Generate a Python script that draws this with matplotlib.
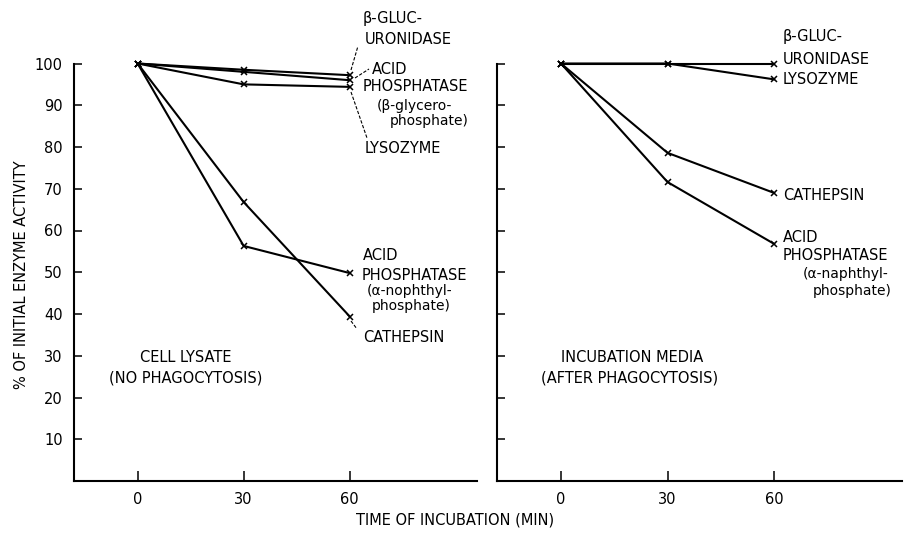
import matplotlib
matplotlib.use("Agg")
import matplotlib.pyplot as plt
from matplotlib.lines import Line2D

plt.rcParams['font.family'] = ['DejaVu Sans']

# ---- data ----
time_min = [0, 30, 60]
x_ticks = [0, 30, 60]
y_ticks = [10, 20, 30, 40, 50, 60, 70, 80, 90, 100]

# Cell lysate (no phagocytosis)
beta_gluc_lysate = [100, 98.5, 97.2]
acid_phos_beta_lysate = [100, 98.0, 96.0]
lysozyme_lysate = [100, 95.0, 94.4]
cathepsin_lysate = [100, 66.8, 39.4]
acid_phos_alpha_lysate = [100, 56.3, 49.8]

# Incubation media (after phagocytosis)
beta_gluc_media = [100, 100, 100]
lysozyme_media = [100, 100, 96.2]
cathepsin_media = [100, 78.6, 69.0]
acid_phos_alpha_media = [100, 71.6, 56.8]

W, H = 908, 533
fig = plt.figure(figsize=(W / 100, H / 100), dpi=100)

def px(x, y):
    return x / W, 1 - y / H

def add_axes(x0, x1, ytop, ybot):
    return fig.add_axes([x0 / W, 1 - ybot / H, (x1 - x0) / W, (ybot - ytop) / H])

axL = add_axes(74, 477, 63.5, 481)
axR = add_axes(497, 902, 63.5, 481)

line_kw = dict(color='black', lw=1.5, marker='x', ms=5, mew=1.1, clip_on=False)

for s in [beta_gluc_lysate, acid_phos_beta_lysate, lysozyme_lysate,
          cathepsin_lysate, acid_phos_alpha_lysate]:
    axL.plot(time_min, s, **line_kw)
for s in [beta_gluc_media, lysozyme_media, cathepsin_media, acid_phos_alpha_media]:
    axR.plot(time_min, s, **line_kw)

for ax in (axL, axR):
    ax.set_xlim(-18, 96)
    ax.set_ylim(0, 100)
    for sp in ('top', 'right'):
        ax.spines[sp].set_visible(False)
    for sp in ('left', 'bottom'):
        ax.spines[sp].set_linewidth(1.5)
    ax.set_xticks(x_ticks)
    ax.set_xticklabels([str(t) for t in x_ticks])
    ax.set_yticks(y_ticks)
    ax.tick_params(axis='x', direction='in', length=7, width=1.1, pad=8, labelsize=10.5)
    ax.tick_params(axis='y', direction='in', length=6, width=1.1, pad=8, labelsize=10.5)
    ax.patch.set_visible(False)

axL.set_yticklabels([str(t) for t in y_ticks])
axR.set_yticklabels([])

fs = 10.5
def T(x, y, s, ha='left', size=fs, **kw):
    fig.text(*px(x, y), s, ha=ha, va='center', fontsize=size, **kw)

# left panel labels
T(363, 19, "β-GLUC-")
T(365, 40, "URONIDASE")
T(372, 69, "ACID")
T(363, 87, "PHOSPHATASE")
T(377, 106, "(β-glycero-", size=10)
T(390, 121, "phosphate)", size=10)
T(365, 148, "LYSOZYME")
T(363, 256, "ACID")
T(362, 275, "PHOSPHATASE")
T(367, 291, "(α-nophthyl-", size=10)
T(372, 306, "phosphate)", size=10)
T(363, 337, "CATHEPSIN")
T(186, 357, "CELL LYSATE", ha='center')
T(186, 378, "(NO PHAGOCYTOSIS)", ha='center')

# right panel labels
T(783, 37, "β-GLUC-")
T(783, 60, "URONIDASE")
T(783, 79, "LYSOZYME")
T(783, 195, "CATHEPSIN")
T(783, 237, "ACID")
T(783, 255, "PHOSPHATASE")
T(803, 274, "(α-naphthyl-", size=10)
T(813, 291, "phosphate)", size=10)
T(632, 357, "INCUBATION MEDIA", ha='center')
T(630, 378, "(AFTER PHAGOCYTOSIS)", ha='center')

# axis titles
fig.text(*px(22, 275), "% OF INITIAL ENZYME ACTIVITY", rotation=90,
         ha='center', va='center', fontsize=10.5)
fig.text(*px(455, 520), "TIME OF INCUBATION (MIN)", ha='center', va='center',
         fontsize=10.5)

# leader lines
def leader(x0, y0, x1, y1, ls='--'):
    (a, b), (c, d) = px(x0, y0), px(x1, y1)
    fig.add_artist(Line2D([a, c], [b, d], color='black', lw=0.8, ls=ls,
                          dashes=(3, 1.5)))

leader(351, 70, 358, 46)
leader(355, 78, 369, 69)
leader(351, 92, 367, 138)
leader(351, 321, 357, 329)

fig.savefig("out.png", dpi=100)
